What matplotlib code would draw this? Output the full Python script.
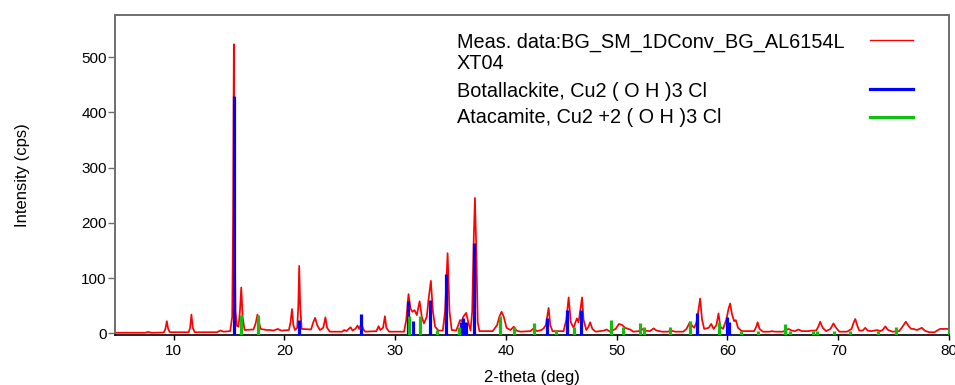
import matplotlib
matplotlib.use("Agg")
import matplotlib.pyplot as plt
from matplotlib.lines import Line2D

# ---------------- data ----------------
# measured pattern: vertices (2-theta in deg, intensity in cps)
meas_points = [
    (4.7, 1), (7.4, 1), (7.7, 2.5), (8.0, 1), (9.1, 1.5), (9.25, 8), (9.38, 22), (9.5, 8),
    (9.65, 2), (11.35, 2), (11.48, 10), (11.6, 34), (11.72, 10), (11.9, 2), (13.9, 2),
    (14.2, 5), (14.5, 3), (15.1, 4), (15.28, 30), (15.36, 200), (15.43, 523), (15.5, 200),
    (15.58, 40), (15.7, 14), (15.85, 12), (15.98, 40), (16.1, 83), (16.22, 30), (16.4, 6),
    (17.2, 7), (17.4, 18), (17.56, 34), (17.7, 20), (17.85, 8), (18.4, 6), (18.7, 6),
    (19.0, 5), (19.4, 8), (19.7, 5), (20.4, 6), (20.55, 20), (20.68, 44), (20.8, 15),
    (20.95, 6), (21.15, 10), (21.25, 50), (21.33, 122), (21.42, 50), (21.55, 8), (22.4, 7),
    (22.6, 20), (22.77, 28), (22.95, 15), (23.2, 6), (23.5, 10), (23.7, 29), (23.85, 10),
    (24.1, 3), (25.2, 3), (25.4, 6), (25.6, 4), (25.8, 8), (25.97, 11), (26.15, 5),
    (26.4, 8), (26.6, 14), (26.75, 8), (26.95, 18), (27.1, 8), (27.3, 3), (28.3, 4),
    (28.5, 13), (28.65, 6), (28.9, 10), (29.07, 31), (29.2, 10), (29.45, 3), (30.8, 3),
    (31.0, 25), (31.2, 71), (31.38, 45), (31.55, 39), (31.75, 42), (31.95, 33), (32.2, 58),
    (32.4, 30), (32.6, 18), (32.85, 30), (33.0, 60), (33.22, 95), (33.4, 40), (33.6, 12),
    (33.9, 5), (34.3, 5), (34.5, 40), (34.73, 145), (34.9, 40), (35.1, 6), (35.5, 5),
    (35.7, 15), (35.85, 24), (36.0, 22), (36.15, 30), (36.4, 37), (36.6, 20), (36.8, 5),
    (36.95, 40), (37.1, 180), (37.2, 245), (37.32, 150), (37.45, 20), (37.6, 4), (38.8, 4),
    (39.2, 15), (39.4, 30), (39.6, 39), (39.8, 30), (40.05, 10), (40.4, 6), (40.7, 12),
    (40.95, 5), (41.3, 3), (42.2, 4), (42.5, 9), (42.8, 4), (43.2, 6), (43.4, 9), (43.6, 15),
    (43.85, 46), (44.0, 15), (44.2, 4), (45.2, 4), (45.45, 25), (45.66, 65), (45.85, 20),
    (46.1, 10), (46.4, 27), (46.55, 20), (46.7, 40), (46.87, 65), (47.0, 25), (47.25, 6),
    (47.45, 12), (47.6, 20), (47.8, 8), (48.1, 3), (48.85, 5), (49.1, 7), (49.4, 3),
    (49.9, 8), (50.2, 17), (50.5, 15), (50.75, 10), (51.2, 7), (51.5, 3), (52.0, 4),
    (52.28, 8), (52.5, 5), (53.0, 4), (53.33, 9), (53.6, 5), (54.1, 3), (54.6, 3),
    (54.9, 5), (55.3, 3), (56.0, 3), (56.3, 8), (56.6, 20), (56.8, 14), (57.0, 10),
    (57.2, 20), (57.4, 45), (57.53, 63), (57.7, 25), (57.9, 8), (58.3, 10), (58.53, 17),
    (58.75, 8), (59.0, 15), (59.19, 36), (59.35, 12), (59.6, 8), (59.9, 25), (60.1, 45),
    (60.24, 54), (60.4, 35), (60.6, 22), (60.75, 24), (60.95, 10), (61.3, 4), (62.4, 4),
    (62.6, 12), (62.72, 20), (62.9, 8), (63.2, 3), (63.8, 3), (64.0, 4), (64.3, 3),
    (65.0, 3), (65.3, 6), (65.5, 8), (65.8, 5), (66.1, 4), (66.4, 7), (66.7, 4), (67.3, 4),
    (67.6, 5), (68.0, 5), (68.2, 12), (68.37, 21), (68.6, 10), (68.9, 4), (69.3, 8),
    (69.57, 18), (69.8, 10), (70.1, 3), (70.8, 3), (71.2, 8), (71.4, 20), (71.54, 26),
    (71.7, 15), (71.9, 5), (72.2, 5), (72.44, 10), (72.65, 5), (73.0, 4), (73.5, 6),
    (73.8, 4), (74.0, 6), (74.25, 12.5), (74.5, 6), (74.9, 3), (75.5, 4), (75.8, 12),
    (76.1, 21), (76.4, 12), (76.6, 8), (76.8, 8), (77.1, 6), (77.55, 10), (77.8, 5),
    (78.2, 2), (78.7, 2), (79.0, 6), (79.2, 8), (80.0, 8),
]
meas_2theta = [p[0] for p in meas_points]
meas_cps = [p[1] for p in meas_points]

# reference stick patterns
botallackite_2theta = [15.43, 21.33, 26.93, 31.15, 31.63, 33.13, 34.61, 35.95, 36.15,
                       36.4, 37.12, 43.7, 45.48, 46.74, 57.24, 59.95, 60.13]
botallackite_cps = [430, 24, 35, 58, 22, 61, 107, 20, 27,
                    21, 163, 27, 42, 42, 36, 30, 21]

atacamite_2theta = [16.09, 17.65, 31.26, 32.26, 33.8, 35.78, 39.42, 40.75, 42.5, 44.5,
                    46.1, 49.45, 50.53, 52.07, 52.5, 54.82, 56.58, 59.19, 61.24, 62.8,
                    65.15, 65.6, 67.7, 68.07, 69.58, 71.08, 73.58, 75.17, 79.96]
atacamite_cps = [33, 33, 31, 31, 6, 12, 31, 12, 18, 6,
                 12, 24, 12, 18, 12, 12, 22, 21, 5, 5,
                 17, 5, 5, 5, 5, 5, 5, 12, 6]

x_ticks = [10, 20, 30, 40, 50, 60, 70, 80]
y_ticks = [0, 100, 200, 300, 400, 500]
legend_labels = ["Meas. data:BG_SM_1DConv_BG_AL6154L\nXT04",
                 "Botallackite, Cu2 ( O H )3 Cl",
                 "Atacamite, Cu2 +2 ( O H )3 Cl"]

# ---------------- styling ----------------
RED, BLUE, GREEN = "#ff0000", "#0000ff", "#10c010"
SPINE_GRAY = "#6e6e6e"
W, H = 955, 385
XLIM = (4.7, 80.0)
YLIM = (-3.0, 576.0)

plt.rcParams["font.family"] = ["Liberation Sans", "DejaVu Sans"]

fig = plt.figure(figsize=(W / 100, H / 100), dpi=100)
ax = fig.add_axes([115 / W, 1 - 335 / H, (949 - 115) / W, (335 - 15) / H])

ax.plot(meas_2theta, meas_cps, color=RED, lw=1.25, zorder=2, solid_joinstyle="round")
ax.vlines(botallackite_2theta, YLIM[0], botallackite_cps, color=BLUE, lw=2.3, zorder=3)
ax.vlines(atacamite_2theta, YLIM[0], atacamite_cps, color=GREEN, lw=2.3, zorder=4)

ax.set_xlim(*XLIM)
ax.set_ylim(*YLIM)
ax.set_xticks(x_ticks)
ax.set_yticks(y_ticks)

for side in ("left", "top", "right"):
    ax.spines[side].set_color(SPINE_GRAY)
    ax.spines[side].set_linewidth(1.4)
ax.spines["bottom"].set_color("black")
ax.spines["bottom"].set_linewidth(1.2)

ax.tick_params(axis="x", direction="out", length=3.6, width=1.0, pad=3,
               labelsize=11, color="black")
ax.tick_params(axis="y", direction="out", length=5.0, width=1.0, pad=1,
               labelsize=11, color=SPINE_GRAY)

ax.set_xlabel("2-theta (deg)", fontsize=12)
ax.xaxis.label.set_va("baseline")
ax.xaxis.set_label_coords(0.5, (335 - 381.6) / 320)
ax.set_ylabel("Intensity (cps)", fontsize=12)
ax.yaxis.label.set_va("center")
ax.yaxis.set_label_coords((22.7 - 115) / 834, 0.5)

# ---------------- legend (text on the left, line sample on the right) ----------------
text_x = 457
baselines = [47.3, 97.3, 123.3]
line_gap = 22.0
handle_y = [40.0, 89.0, 116.7]
handle_colors = [RED, BLUE, GREEN]
handle_widths = [1.0, 2.3, 2.3]
for label, base, hy, col, lw in zip(legend_labels, baselines, handle_y,
                                    handle_colors, handle_widths):
    for i, line in enumerate(label.split("\n")):
        fig.text(text_x / W, 1 - (base + i * line_gap) / H, line, fontsize=14.3,
                 va="baseline", ha="left", color="black")
    fig.add_artist(Line2D([870 / W, 913 / W], [1 - hy / H, 1 - hy / H],
                          transform=fig.transFigure, color=col, lw=lw))

fig.savefig("out.png", dpi=100)
